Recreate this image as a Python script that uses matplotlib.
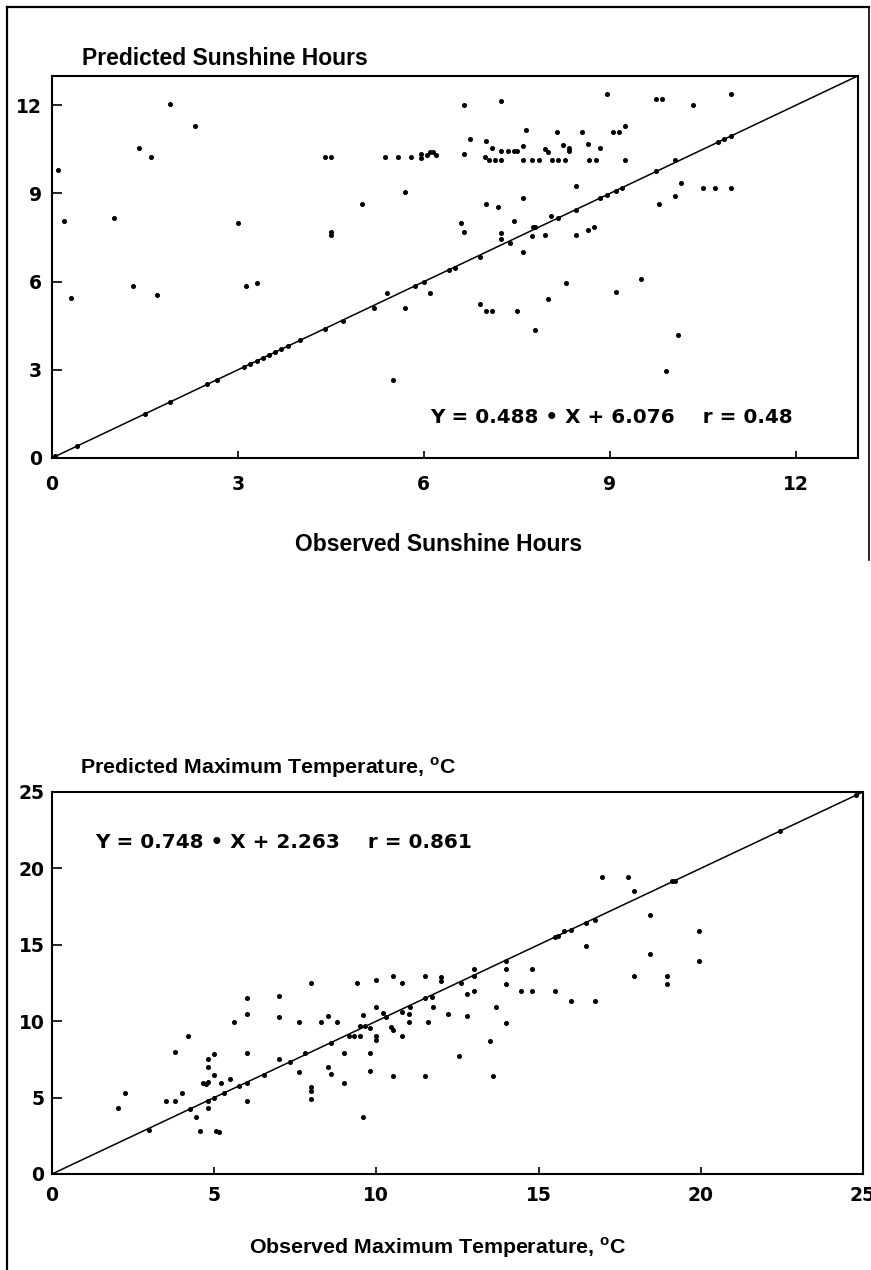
import matplotlib
matplotlib.use("Agg")
import matplotlib.pyplot as plt
from matplotlib.lines import Line2D

plt.rcParams['mathtext.fontset'] = 'custom'
plt.rcParams['mathtext.bf'] = 'Liberation Sans:bold'
plt.rcParams['mathtext.rm'] = 'Liberation Sans:bold'

# ---------------- Data: sunshine hours (observed, predicted) ----------------
sun_obs = [0.05, 0.09, 0.2, 0.3, 0.4, 1.0, 1.3, 1.4, 1.5, 1.6, 1.7, 1.9, 1.9, 2.3,
           2.5, 2.66, 3.0, 3.1, 3.13, 3.2, 3.3, 3.3, 3.4, 3.5, 3.6, 3.7, 3.8, 4.0,
           4.4, 4.5, 4.4, 4.5, 4.5, 4.7, 5.0, 5.2, 5.4, 5.5, 5.37, 5.59, 5.8, 5.7,
           5.7, 5.85, 6.0, 6.1, 5.95, 5.95, 6.05, 6.1, 6.15, 6.2,
           6.65, 7.25, 8.95, 9.75, 9.85, 10.35, 10.95,
           6.75, 6.65, 7.0, 7.1, 6.98, 7.05, 7.15, 7.25, 7.25, 7.35, 7.45, 7.5,
           7.6, 7.65, 7.6, 7.75, 7.85, 7.95, 8.0, 8.06, 8.17, 8.28, 8.15,
           8.25, 8.35, 8.35, 8.55, 8.65, 8.67, 8.77, 8.85, 9.05, 9.15, 9.25, 9.25,
           9.75, 10.05, 10.75, 10.85, 10.95,
           8.45, 7.6, 7.0, 7.2, 6.6, 6.65, 7.25, 7.25, 7.45, 7.6, 7.76, 7.8,
           7.75, 7.95, 8.05, 8.45, 8.65, 8.75, 8.85, 8.95, 9.1, 9.2, 8.45,
           9.8, 10.05, 10.15, 10.5, 10.7, 10.95, 6.9, 6.4, 6.5, 7.39, 8.17,
           8.3, 9.5, 9.1, 8.0, 6.9, 7.0, 7.1, 7.5, 7.8, 10.1, 9.9]
sun_pred = [0.05, 9.8, 8.05, 5.45, 0.4, 8.15, 5.85, 10.55, 1.5, 10.25, 5.55, 12.05, 1.9, 11.3,
            2.5, 2.66, 8.0, 3.1, 5.85, 3.2, 5.95, 3.3, 3.4, 3.5, 3.6, 3.7, 3.8, 4.0,
            10.25, 10.25, 4.4, 7.6, 7.7, 4.65, 8.65, 5.1, 5.6, 2.65, 10.25, 10.25, 10.25, 9.05,
            5.1, 5.85, 6.0, 5.6, 10.2, 10.35, 10.3, 10.4, 10.4, 10.3,
            12.0, 12.15, 12.4, 12.2, 12.2, 12.0, 12.4,
            10.85, 10.35, 10.8, 10.55, 10.25, 10.15, 10.15, 10.15, 10.45, 10.45, 10.45, 10.45,
            10.6, 11.15, 10.15, 10.15, 10.15, 10.5, 10.4, 10.15, 10.15, 10.15, 11.1,
            10.65, 10.55, 10.45, 11.1, 10.7, 10.15, 10.15, 10.55, 11.1, 11.1, 11.3, 10.15,
            9.75, 10.15, 10.75, 10.85, 10.95,
            9.25, 8.85, 8.65, 8.55, 8.0, 7.7, 7.65, 7.45, 8.05, 7.0, 7.87, 7.85,
            7.55, 7.6, 8.25, 7.6, 7.75, 7.85, 8.85, 8.95, 9.1, 9.2, 8.45,
            8.65, 8.9, 9.35, 9.2, 9.2, 9.2, 6.85, 6.4, 6.45, 7.33, 8.16,
            5.95, 6.1, 5.65, 5.4, 5.25, 5.0, 5.0, 5.0, 4.35, 4.2, 2.95]

# ---------------- Data: maximum temperature (observed, predicted) ----------------
tmp_obs = [2.05, 2.25, 3.0, 3.5, 3.8, 3.8, 4.0, 4.2, 4.25, 4.45, 4.55, 4.8, 4.8, 5.0,
           4.65, 4.75, 4.8, 4.8, 4.8, 5.0, 5.0, 5.05, 5.15, 5.2, 5.3, 5.5, 5.6,
           6.0, 6.0, 6.0, 6.0, 6.0, 5.75, 6.55, 7.0, 7.0, 7.0, 7.35, 7.6, 7.6, 7.8,
           8.0, 8.0, 8.0, 8.0, 8.3, 8.5, 8.5, 8.6, 8.6, 8.8, 9.0, 9.0, 9.15, 9.3,
           9.4, 9.5, 9.6, 9.5, 9.65, 9.8, 9.6, 9.8, 9.8, 10.0, 10.0, 10.0, 10.0,
           10.2, 10.3, 10.45, 10.5, 10.5, 10.5, 10.8, 10.8, 10.8, 11.0, 11.0, 11.05,
           11.5, 11.5, 11.6, 11.75, 11.5, 11.7, 12.0, 12.0,
           12.2, 12.55, 12.6, 12.8, 12.8, 13.0, 13.0, 13.0, 13.5, 13.6, 13.7,
           14.0, 14.0, 14.0, 14.0, 14.45, 14.8, 14.8, 15.5, 15.5, 15.6, 15.8, 16.0,
           16.0, 16.45, 16.45, 16.75, 16.75, 16.95, 17.75, 17.95, 17.95, 18.45, 18.45,
           18.95, 18.95, 19.1, 19.2, 19.95, 19.95, 22.45, 24.8]
tmp_pred = [4.3, 5.3, 2.9, 4.8, 4.8, 8.0, 5.3, 9.05, 4.25, 3.75, 2.8, 7.55, 7.0, 7.85,
            5.95, 5.9, 6.0, 4.3, 4.75, 6.5, 5.0, 2.8, 2.75, 5.95, 5.3, 6.2, 9.95,
            11.5, 10.5, 7.95, 5.95, 4.75, 5.75, 6.5, 11.65, 10.3, 7.5, 7.3, 9.95, 6.7, 7.9,
            12.5, 5.7, 5.45, 4.9, 9.95, 10.35, 7.0, 6.55, 8.55, 9.95, 7.95, 5.95, 9.05, 9.05,
            12.5, 9.0, 10.4, 9.7, 9.7, 9.55, 3.7, 7.95, 6.75, 12.7, 10.95, 9.0, 8.8,
            10.55, 10.3, 9.65, 9.45, 12.95, 6.4, 12.5, 9.05, 10.6, 10.5, 9.95, 10.95,
            12.95, 6.4, 9.95, 10.95, 11.5, 11.6, 12.9, 12.6,
            10.45, 7.75, 12.5, 11.8, 10.35, 13.4, 12.95, 11.95, 8.7, 6.4, 10.9,
            13.95, 13.4, 12.45, 9.9, 11.95, 11.95, 13.4, 11.95, 15.5, 15.6, 15.9, 15.95,
            11.35, 14.95, 16.4, 16.65, 11.35, 19.45, 19.45, 18.5, 12.95, 16.95, 14.4,
            12.95, 12.45, 19.15, 19.15, 15.9, 13.95, 22.45, 24.8]

sun_ticks = [0, 3, 6, 9, 12]
tmp_ticks = [0, 5, 10, 15, 20, 25]
sun_eq = "Y = 0.488 \u2022 X + 6.076    r = 0.48"
tmp_eq = "Y = 0.748 \u2022 X + 2.263    r = 0.861"

TICKFONT = dict(family='DejaVu Sans', weight='bold', size=13.5)
EQFONT = dict(family='DejaVu Sans', weight='bold', size=14.4)
TOPLAB = dict(family='Liberation Sans', weight='bold', size=16.5)
BOTLAB = dict(family='Liberation Sans', weight='bold', size=15.4)

fig = plt.figure(figsize=(8.71, 12.7), dpi=100)

def style(ax, lim, ticks, ypad, xpad):
    ax.set_xlim(0, lim)
    ax.set_ylim(0, lim)
    ax.set_xticks(ticks)
    ax.set_yticks(ticks)
    ax.set_xticklabels([str(t) for t in ticks], fontdict=TICKFONT)
    ax.set_yticklabels([str(t) for t in ticks], fontdict=TICKFONT)
    ax.tick_params(axis='y', direction='in', length=7, width=1.2, pad=ypad)
    ax.tick_params(axis='x', direction='in', length=5, width=1.2, pad=xpad)
    for s in ax.spines.values():
        s.set_linewidth(1.5)
    ax.plot([0, lim], [0, lim], color='black', lw=1.1, zorder=2)

# ---- top panel ----
ax1 = fig.add_axes([0.0597, 0.6394, 0.925, 0.3008])
style(ax1, 13, sun_ticks, 7, 12)
ax1.plot(sun_obs, sun_pred, 'o', color='black', markersize=2.6, zorder=3)
ax1.text(6.1, 1.36, sun_eq, ha='left', va='center', fontdict=EQFONT)

# ---- bottom panel ----
ax2 = fig.add_axes([0.0597, 0.0756, 0.931, 0.3008])
style(ax2, 25, tmp_ticks, 5.5, 8.5)
ax2.plot(tmp_obs, tmp_pred, 'o', color='black', markersize=2.6, zorder=3)
ax2.text(1.33, 21.7, tmp_eq, ha='left', va='center', fontdict=EQFONT)

# ---- titles ----
fig.text(0.094, 0.9543, "Predicted Sunshine Hours", ha='left', va='center', **TOPLAB)
fig.text(0.504, 0.571, "Observed Sunshine Hours", ha='center', va='center', **TOPLAB)
fig.text(0.0918, 0.3953, r"Predicted Maximum Temperature, $^{\mathbf{o}}$C", ha='left', va='center', **BOTLAB)
fig.text(0.502, 0.0173, r"Observed Maximum Temperature, $^{\mathbf{o}}$C", ha='center', va='center', **BOTLAB)

# ---- page frame ----
fig.add_artist(Line2D([0.008, 0.008], [0.0, 0.9945], color='black', lw=1.6, transform=fig.transFigure))
fig.add_artist(Line2D([0.008, 0.998], [0.9945, 0.9945], color='black', lw=1.6, transform=fig.transFigure))
fig.add_artist(Line2D([0.998, 0.998], [0.9945, 0.559], color='black', lw=1.2, transform=fig.transFigure))

fig.savefig("out.png", dpi=100)
